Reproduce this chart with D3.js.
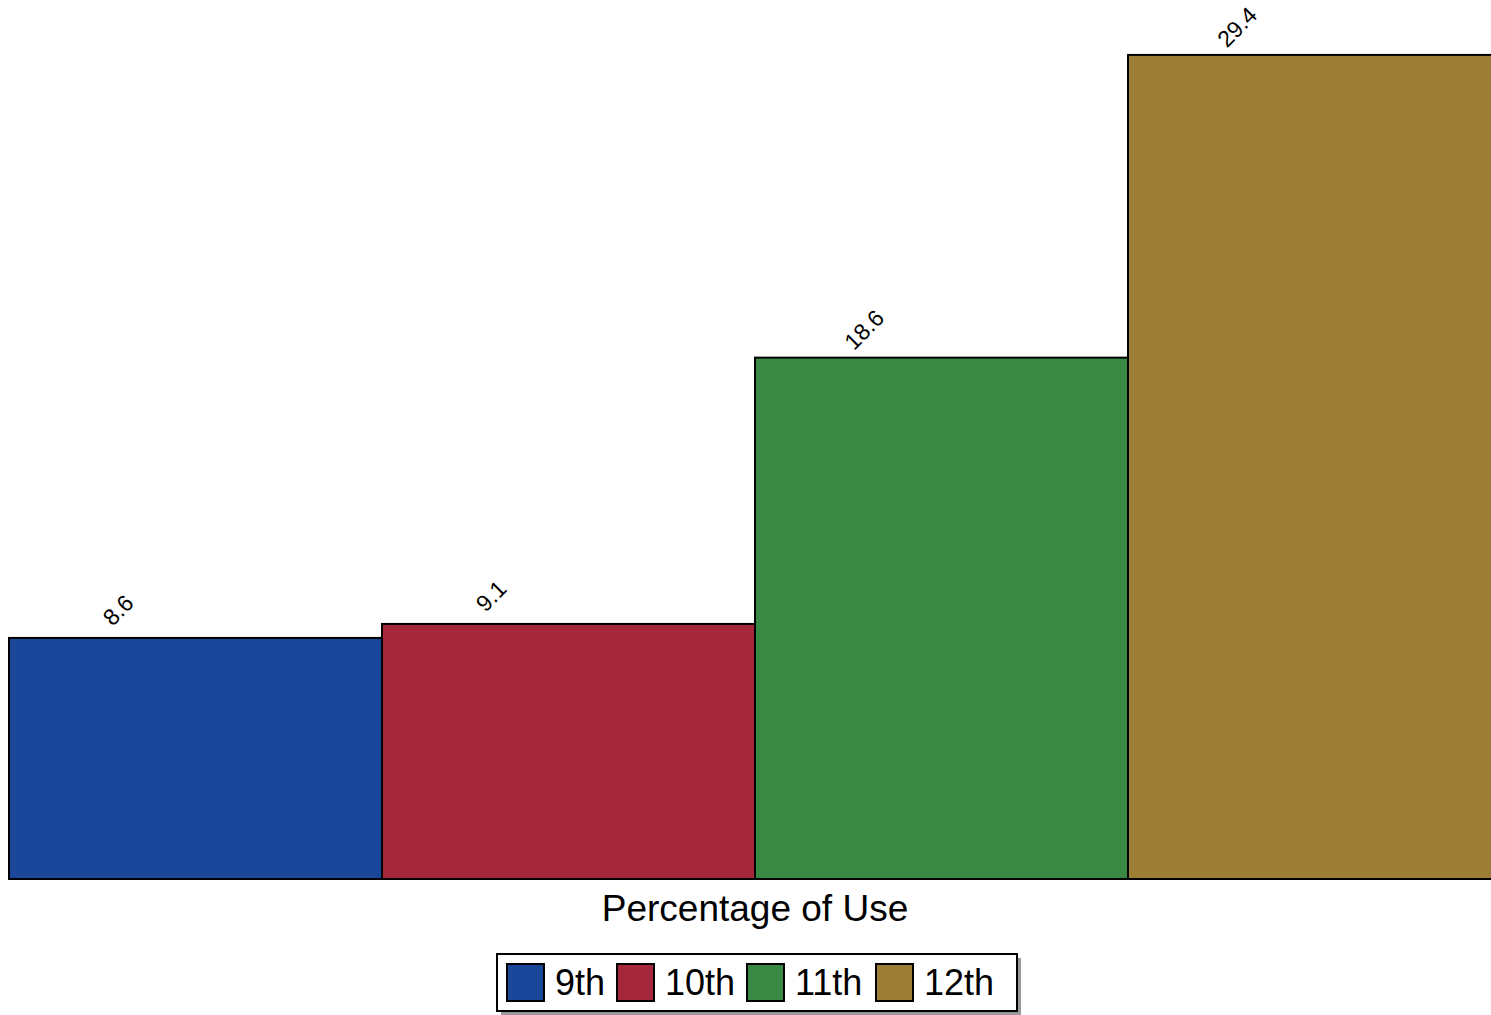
<!DOCTYPE html>
<html><head><meta charset="utf-8">
<script src="https://cdn.jsdelivr.net/npm/d3@7"></script>
<style>body{margin:0;background:#fff}svg{display:block}text{font-family:"Liberation Sans",Arial,sans-serif}</style>
</head><body><div id="chart"></div>
<script>
const categories = ["9th", "10th", "11th", "12th"];
const values = [8.6, 9.1, 18.6, 29.4];
const colors = ["#1a4799", "#a6273b", "#398844", "#9c7e34"];
const axisTitle = "Percentage of Use";

const W = 1491, H = 1015;
const svg = d3.select("#chart").append("svg").attr("width", W).attr("height", H);

const x = d3.scaleBand().domain(categories).range([9, 1501]).padding(0);
const y = d3.scaleLinear().domain([0, 30]).range([879, 879 - 28.03 * 30]);

svg.selectAll("rect.bar").data(values).enter().append("rect")
  .attr("class", "bar")
  .attr("x", (d, i) => x(categories[i]))
  .attr("width", x.bandwidth())
  .attr("y", d => y(d))
  .attr("height", d => y(0) - y(d))
  .attr("fill", (d, i) => colors[i])
  .attr("stroke", "#000").attr("stroke-width", 2);

svg.selectAll("text.lbl").data(values).enter().append("text")
  .attr("class", "lbl")
  .attr("transform", (d, i) => `translate(${x(categories[i]) + 109},${y(d) - 28}) rotate(-45)`)
  .attr("font-size", 23)
  .attr("text-anchor", "middle")
  .attr("dy", "0.35em")
  .attr("fill", "#000")
  .text(d => d.toFixed(1));

svg.append("text").attr("x", 755).attr("y", 921).attr("text-anchor", "middle")
  .attr("font-size", 37).text(axisTitle);

// legend
const lg = svg.append("g");
lg.append("rect").attr("x", 501).attr("y", 958).attr("width", 520).attr("height", 57).attr("fill", "#999");
lg.append("rect").attr("x", 497).attr("y", 954).attr("width", 520).attr("height", 57)
  .attr("fill", "#fff").attr("stroke", "#000").attr("stroke-width", 2);
const swX = [507, 617, 747, 876];
categories.forEach((c, i) => {
  lg.append("rect").attr("x", swX[i]).attr("y", 964).attr("width", 37).attr("height", 37)
    .attr("fill", colors[i]).attr("stroke", "#000").attr("stroke-width", 2);
  lg.append("text").attr("x", swX[i] + 48).attr("y", 995).attr("font-size", 36).text(c);
});
</script></body></html>
